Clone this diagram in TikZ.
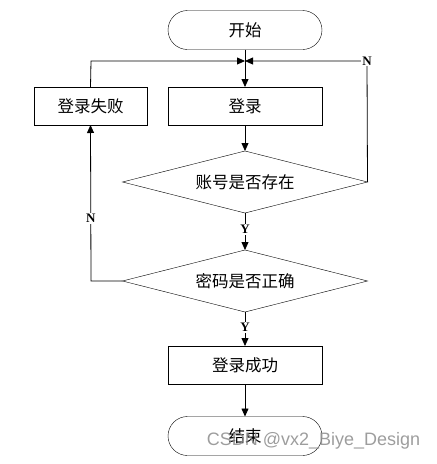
\documentclass[tikz,border=0pt]{standalone}
\usepackage{fontspec}
\setmainfont{Liberation Serif}
\newfontfamily\cjk{Noto Sans CJK SC}
\newfontfamily\wmfont{Liberation Sans}
\usetikzlibrary{shapes.geometric,arrows.meta}
\tikzset{
  every node/.style={inner sep=0pt, outer sep=0pt},
  cn/.style={font=\cjk\fontsize{16.5}{18}\selectfont},
  term/.style={cn, draw, rounded corners=19.5pt, minimum width=154pt, minimum height=39pt},
  proc/.style={cn, draw, minimum width=154pt, minimum height=38pt},
  dec/.style={cn, draw, diamond, shape aspect=4, minimum width=245pt, minimum height=62pt},
  lbl/.style={font=\bfseries\fontsize{13}{13}\selectfont, fill=white, inner sep=1pt},
  ln/.style={line width=0.8pt},
  arr/.style={ln, -{Triangle[length=8pt,width=7pt]}},
}
\begin{document}
\begin{tikzpicture}[x=1pt,y=-1pt]
\useasboundingbox (0,0) rectangle (437,464);
\node[term] (start) at (245,30) {开始};
\node[proc] (login) at (245,106) {登录};
\node[proc, minimum width=113pt] (fail) at (90.5,106) {登录失败};
\node[dec] (d1) at (245,182) {账号是否存在};
\node[dec] (d2) at (245,281) {密码是否正确};
\node[proc] (ok) at (245,365) {登录成功};
\node[term] (end) at (245,436) {结束};
\coordinate (m) at (245,61);
\coordinate (rc) at (367,61);
\coordinate (lc) at (91,61);
\coordinate (lb) at (91,281);
\draw[arr] (start.south) -- (login.north);
\draw[arr] (fail.north) -- (lc) -- (m);
\draw[arr] (d1.east) -- (rc) node[lbl] {N} -- (m);
\draw[arr] (login.south) -- (d1.north);
\draw[arr] (d1.south) -- node[lbl, pos=0.45] {Y} (d2.north);
\draw[arr] (d2.west) -- (lb) -- node[lbl, pos=0.4] {N} (fail.south);
\draw[arr] (d2.south) -- node[lbl, pos=0.45] {Y} (ok.north);
\draw[arr] (ok.south) -- (end.north);
\node[font=\wmfont\fontsize{18}{18}\selectfont, text=black!45, opacity=0.85] (wm) at (313.5,441) {CSDN @vx2\_Biye\_Design};
\end{tikzpicture}
\end{document}
